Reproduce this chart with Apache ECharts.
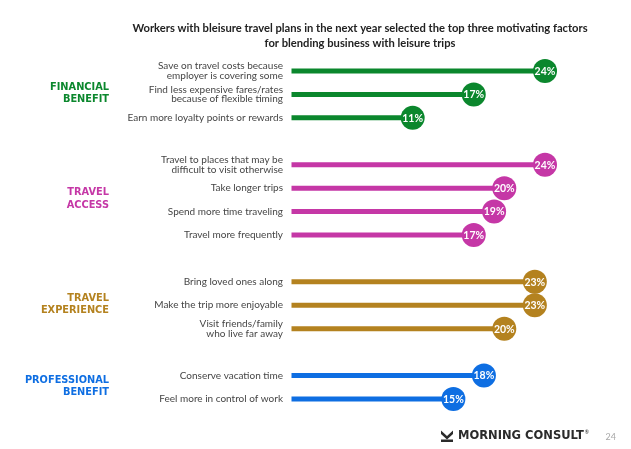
<!DOCTYPE html>
<html>
<head>
<meta charset="utf-8">
<script src="https://cdn.jsdelivr.net/npm/echarts@6/dist/echarts.min.js"></script>
<style>
html,body{margin:0;padding:0;background:#fff;}
#c{width:631px;height:449px;}
</style>
</head>
<body>
<div id="c"></div>
<script>
// ---- data ----
const titleLines = ["Workers with bleisure travel plans in the next year selected the top three motivating factors", "for blending business with leisure trips"];
const groupNames = ["FINANCIAL\nBENEFIT", "TRAVEL\nACCESS", "TRAVEL\nEXPERIENCE", "PROFESSIONAL\nBENEFIT"];
const groupColors = ["#0B872D", "#C537A6", "#B4821F", "#0E6EE2"];
const financialLabels = ["Save on travel costs because\nemployer is covering some", "Find less expensive fares/rates\nbecause of flexible timing", "Earn more loyalty points or rewards"];
const financialValues = [24, 17, 11];
const accessLabels = ["Travel to places that may be\ndifficult to visit otherwise", "Take longer trips", "Spend more time traveling", "Travel more frequently"];
const accessValues = [24, 20, 19, 17];
const experienceLabels = ["Bring loved ones along", "Make the trip more enjoyable", "Visit friends/family\nwho live far away"];
const experienceValues = [23, 23, 20];
const professionalLabels = ["Conserve vacation time", "Feel more in control of work"];
const professionalValues = [18, 15];
const pageNumber = "24";
const brand = "MORNING CONSULT";

// ---- build ----
const groupLabels = [financialLabels, accessLabels, experienceLabels, professionalLabels];
const groupValues = [financialValues, accessValues, experienceValues, professionalValues];
const categories = [];
const seriesData = [];
const groupSpans = [];
groupLabels.forEach((labels, g) => {
  if (g > 0) categories.push("");
  const start = categories.length;
  const d = [];
  labels.forEach((l, i) => {
    d.push([groupValues[g][i], categories.length]);
    categories.push(l);
  });
  groupSpans.push([start, categories.length - 1]);
  seriesData.push(d);
});

const xMin = -0.9;
const FONT = 'Lato';
const WIDE = 'DejaVu Sans';

const chart = echarts.init(document.getElementById('c'), null, {renderer: 'canvas'});

function renderItem(params, api) {
  const v = api.value(0), yi = api.value(1);
  const s = api.coord([xMin, yi]);
  const e = api.coord([v, yi]);
  const color = api.visual('color');
  return {
    type: 'group',
    children: [
      {type: 'rect', shape: {x: s[0], y: s[1] - 2.5, width: e[0] - s[0], height: 5}, style: {fill: color}},
      {type: 'circle', shape: {cx: e[0], cy: e[1], r: 12}, style: {fill: color}},
      {type: 'text', style: {text: v + '%', x: e[0], y: e[1] + 0.5, align: 'center', verticalAlign: 'middle',
        fill: '#fff', fontFamily: FONT, fontWeight: 'bold', fontSize: 10.5}}
    ]
  };
}

const option = {
  animation: false,
  backgroundColor: '#fff',
  title: {
    text: titleLines.join('\n'),
    left: 355, top: 16, textAlign: 'center',
    textStyle: {fontFamily: FONT, fontWeight: 'bold', fontSize: 11.2, color: '#222', lineHeight: 15}
  },
  grid: {left: 291.5, width: 314.6, top: 59.3, height: 351.4},
  xAxis: {type: 'value', min: xMin, max: 30, show: false},
  yAxis: {
    type: 'category', data: categories, inverse: true,
    axisLine: {show: false}, axisTick: {show: false},
    axisLabel: {margin: 8.5, color: '#454545', fontFamily: FONT, fontSize: 10, lineHeight: 9.5}
  },
  series: seriesData.map((d, g) => ({
    type: 'custom', name: groupNames[g], data: d, renderItem, color: groupColors[g],
    encode: {x: 0, y: 1}
  }))
};
chart.setOption(option);

const graphics = groupNames.map((name, g) => {
  const a = chart.convertToPixel({yAxisIndex: 0}, groupSpans[g][0]);
  const b = chart.convertToPixel({yAxisIndex: 0}, groupSpans[g][1]);
  return {
    type: 'text', x: 109, y: (a + b) / 2 - 1,
    style: {text: name, align: 'right', verticalAlign: 'middle', fill: groupColors[g],
      fontFamily: WIDE, fontWeight: 'bold', fontSize: 9.8, lineHeight: 12.5}
  };
});
graphics.push(
  {type: 'polygon', shape: {points: [[441,430.5],[447,436],[453,430.5],[453,434],[447,439.5],[441,434]]}, style: {fill: '#2b2b2b'}},
  {type: 'rect', shape: {x: 441, y: 439.5, width: 12, height: 2.5}, style: {fill: '#2b2b2b'}},
  {type: 'text', x: 458, y: 436.5, style: {
    text: '{b|' + brand + '}{r|\u00AE}', align: 'left', verticalAlign: 'middle',
    rich: {
      b: {fill: '#2b2b2b', fontFamily: WIDE, fontWeight: 'bold', fontSize: 11.5, lineHeight: 14, verticalAlign: 'middle'},
      r: {fill: '#2b2b2b', fontFamily: FONT, fontSize: 5, lineHeight: 5, verticalAlign: 'top', padding: [0, 0, 0, 1]}
    }}},
  {type: 'text', x: 616, y: 437, style: {text: pageNumber, align: 'right', verticalAlign: 'middle', fill: '#a8a8a8',
    fontFamily: FONT, fontSize: 9}}
);
chart.setOption({graphic: graphics});
</script>
</body>
</html>
